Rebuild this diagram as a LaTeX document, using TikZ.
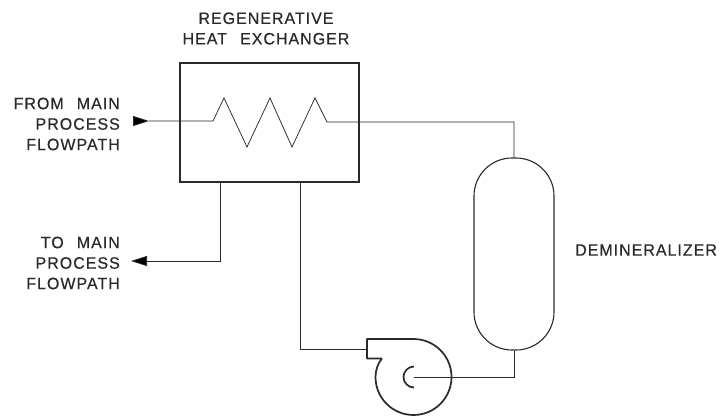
\documentclass[tikz,border=0pt]{standalone}
\usepackage{fontspec}
\setmainfont[FakeStretch=0.97,LetterSpace=6,WordSpace=2.4,FakeBold=0.4]{Liberation Sans}
\usetikzlibrary{arrows.meta}
\definecolor{ink}{HTML}{2A2A2A}
\tikzset{
  x=1pt,y=-1pt,
  pipe/.style={draw=ink,line width=0.75pt},
  heavy/.style={draw=ink,line width=1.7pt},
  tip/.style={pipe,-{Triangle[length=16pt,width=10pt,fill=black]}},
  lab/.style={inner sep=0pt,text=ink,font=\fontsize{16.5}{20.5}\selectfont,align=right},
}
\begin{document}
\begin{tikzpicture}
\useasboundingbox (0,0) rectangle (719,416);
\fill[white] (0,0) rectangle (719,416);
% equipment
\node[heavy,fill=white,minimum width=179pt,minimum height=119pt,inner sep=0pt] (hx) at (269.5,122.5) {};
\node[heavy,line width=1.1pt,minimum width=80pt,minimum height=192pt,inner sep=0pt,rounded corners=38pt] (dem) at (514,254) {};
\coordinate (pump) at (413.5,377);
\coordinate (outlet) at (367,349.5);
% labels
\node[lab,anchor=east] (l1) at (120,124) {FROM MAIN\\PROCESS\\FLOWPATH};
\node[lab,anchor=east] (l2) at (120,263) {TO MAIN\\PROCESS\\FLOWPATH};
\node[lab,align=center] (l3) at (266,28.5) {REGENERATIVE\\HEAT EXCHANGER};
\node[lab,anchor=west] (l4) at (575,250) {DEMINERALIZER};
% inlet and coil
\coordinate (tailA) at (133,121);
\coordinate (tipA) at (149,121);
\coordinate (coilA) at (213,121);
\coordinate (coilB) at (327,122);
\coordinate (bendA) at (514,122);
\draw[tip] (tailA) -- (tipA);
\draw[pipe] (tipA) -- (coilA) -- (224,98) -- (247,147) -- (270,98) -- (292,147) -- (315,98) -- (coilB) -- (bendA) -- (dem.north);
% outlet to main flowpath
\coordinate (hxA) at (220,182);
\coordinate (bendB) at (220,261);
\coordinate (tipB) at (131,261);
\draw[tip] (hxA) -- (bendB) -- (tipB);
% shell side to pump
\coordinate (hxB) at (300,182);
\coordinate (bendC) at (300,349.5);
\draw[pipe] (hxB) -- (bendC) -- (outlet);
% pump
\draw[draw=ink,line width=1.7pt,line join=round]
  (382,358.5) -- (367,358.5) -- (367,339) -- (413.5,339)
  arc[start angle=90,end angle=-180,radius=38pt]
  .. controls (375.5,370) and (378,363) .. (382,358.5);
\draw[draw=ink,line width=1.7pt] (414,366.5) arc[start angle=90,end angle=270,radius=10.5pt];
% demineralizer to pump
\coordinate (bendD) at (514,377);
\draw[pipe] (dem.south) -- (bendD) -- (pump);
\end{tikzpicture}
\end{document}
